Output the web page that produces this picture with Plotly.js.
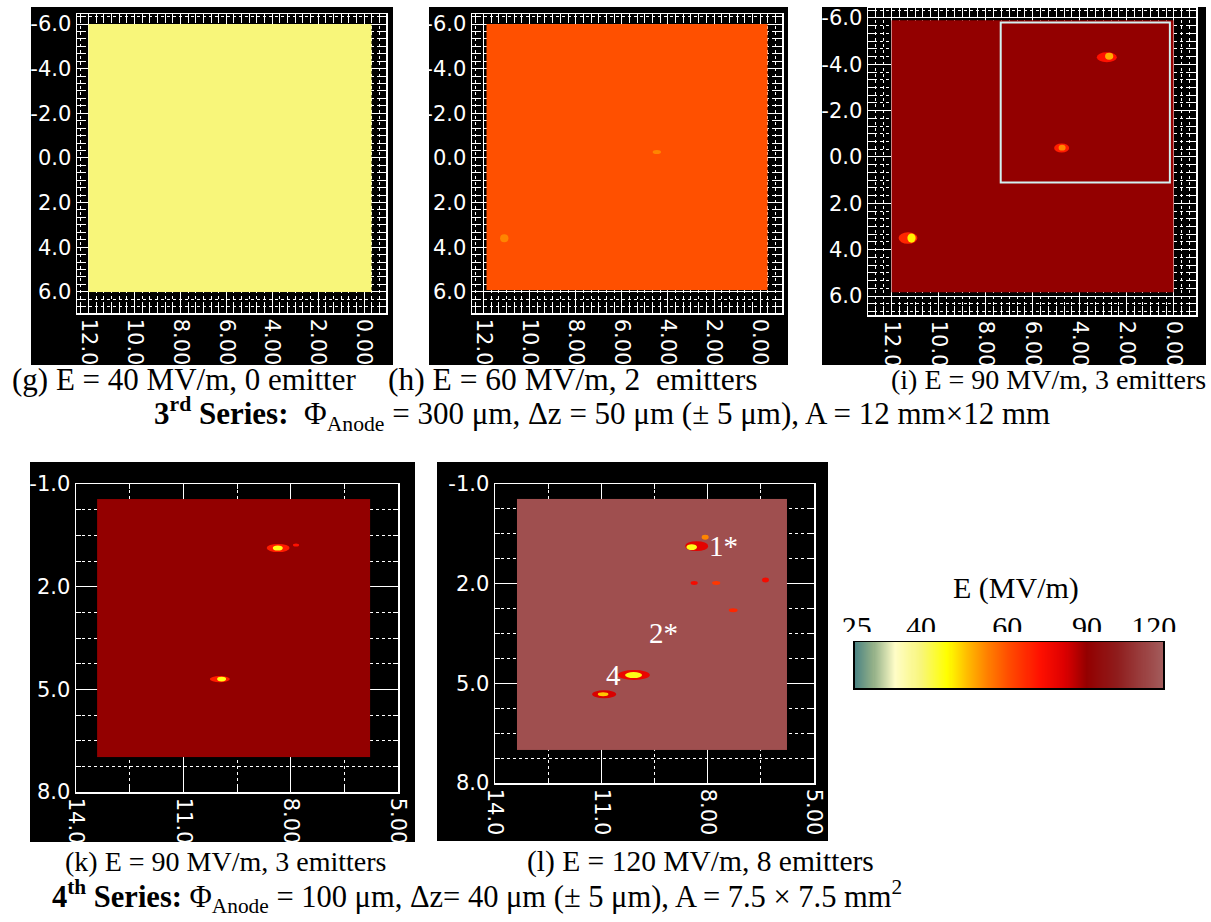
<!DOCTYPE html>
<html><head><meta charset="utf-8">
<script src="https://cdn.plot.ly/plotly-3.0.1.min.js"></script>
<style>html,body{margin:0;padding:0;background:#fff}#chart{width:1211px;height:922px}</style>
</head><body><div id="chart"></div>
<script>
// ================= DATA =================
const panelLabels = ['g', 'h', 'i', 'k', 'l'];
const panelFieldE = [40, 60, 90, 90, 120];          // MV/m
const panelEmitterCount = [0, 2, 3, 3, 8];
// sample-area extent (mm)
const areaXmin = [-0.3, -0.3, 0.0, 5.79, 5.75];
const areaXmax = [12.0, 11.87, 12.0, 13.41, 13.38];
const areaYmin = [-6.0, -6.0, -5.9, -0.56, -0.55];
const areaYmax = [6.0, 5.9, 5.85, 6.98, 7.01];

// tick labels
const topXTickVals = [12, 10, 8, 6, 4, 2, 0];
const topXTickText = ['12.0', '10.0', '8.00', '6.00', '4.00', '2.00', '0.00'];
const topYTickVals = [-6, -4, -2, 0, 2, 4, 6];
const topYTickText = ['-6.0', '-4.0', '-2.0', '0.0', '2.0', '4.0', '6.0'];
const botXTickVals = [14, 11, 8, 5];
const botXTickText = ['14.0', '11.0', '8.00', '5.00'];
const botYTickVals = [-1, 2, 5, 8];
const botYTickText = ['-1.0', '2.0', '5.0', '8.0'];

// emitters (centre, extent in mm, local E colour value)
const hEmX = [4.48, 11.1], hEmY = [-0.27, 3.6], hEmW = [0.36, 0.36], hEmH = [0.18, 0.36], hEmE = [55, 55];
const hCoreX = [null, null], hCoreY = [null, null], hCoreW = [null, null], hCoreH = [null, null], hCoreE = [null, null];

const iEmX = [2.85, 4.77, 11.3], iEmY = [-4.3, -0.39, 3.5], iEmW = [0.85, 0.64, 0.8], iEmH = [0.43, 0.39, 0.5], iEmE = [72, 70, 68];
const iCoreX = [2.75, 4.75, 11.15], iCoreY = [-4.35, -0.4, 3.5], iCoreW = [0.35, 0.3, 0.35], iCoreH = [0.3, 0.25, 0.4], iCoreE = [52, 55, 47];
const iBoxX = [0.17, 7.36], iBoxY = [-5.8, 1.1];

const kEmX = [8.35, 7.85, 9.98], kEmY = [0.87, 0.78, 4.70], kEmW = [0.64, 0.17, 0.56], kEmH = [0.24, 0.09, 0.18], kEmE = [70, 72, 70];
const kCoreX = [8.36, null, 9.93], kCoreY = [0.87, null, 4.70], kCoreW = [0.28, null, 0.25], kCoreH = [0.15, null, 0.14], kCoreE = [45, null, 45];

const lEmX = [8.31, 8.07, 8.38, 7.76, 6.37, 7.28, 10.08, 10.92];
const lEmY = [0.87, 0.6, 1.98, 1.98, 1.89, 2.8, 4.75, 5.33];
const lEmW = [0.65, 0.2, 0.2, 0.23, 0.2, 0.25, 0.9, 0.68];
const lEmH = [0.3, 0.15, 0.12, 0.12, 0.15, 0.12, 0.3, 0.24];
const lEmE = [80, 55, 75, 65, 75, 68, 78, 82];
const lCoreX = [8.45, null, null, null, null, null, 10.09, 10.95];
const lCoreY = [0.9, null, null, null, null, null, 4.75, 5.33];
const lCoreW = [0.3, null, null, null, null, null, 0.48, 0.3];
const lCoreH = [0.18, null, null, null, null, null, 0.18, 0.12];
const lCoreE = [45, null, null, null, null, null, 45, 50];
const lLabelText = ['1*', '2*', '4'];
const lLabelX = [7.56, 9.25, 10.67];
const lLabelY = [0.87, 3.49, 4.75];

// colour bar
const cbTickE = [25, 40, 60, 90, 120];
const cbTickPos = [0.006, 0.214, 0.494, 0.753, 0.97];
const cbStopPos = [0, 0.06, 0.13, 0.214, 0.3, 0.36, 0.43, 0.494, 0.6, 0.68, 0.753, 0.85, 1];
const cbStopColor = ['#4b8383', '#93b088', '#fffdc8', '#f8f67a', '#ffff00', '#ffc000', '#ff8000', '#ff5000',
                     '#ff1000', '#dd0000', '#930000', '#8f1c1c', '#a35c5c'];

// captions
const captionsTop = ['(g) E = 40 MV/m, 0 emitter', '(h) E = 60 MV/m, 2\u00a0 emitters', '(i) E = 90 MV/m, 3 emitters'];
const seriesTop = '<b>3<sup>rd</sup> Series:</b>  \u03A6<sub>Anode</sub> = 300 \u03BCm, \u0394z = 50 \u03BCm (\u00B1 5 \u03BCm), A = 12 mm\u00D712 mm';
const captionsBot = ['(k) E = 90 MV/m, 3 emitters', '(l) E = 120 MV/m, 8 emitters'];
const seriesBot = '<b>4<sup>th</sup> Series:</b> \u03A6<sub>Anode</sub> = 100 \u03BCm, \u0394z= 40 \u03BCm (\u00B1 5 \u03BCm), A = 7.5 \u00D7 7.5 mm<sup>2</sup>';
const cbTitle = 'E (MV/m)';

// ================= HELPERS =================
const W = 1211, H = 922;
const px = v => v / W, py = v => 1 - v / H;
function eToU(E) {
  const t = cbTickE, p = cbTickPos;
  let i = 0;
  if (E <= t[0]) i = 0; else if (E >= t[t.length - 1]) i = t.length - 2;
  else { while (E > t[i + 1]) i++; }
  return p[i] + (E - t[i]) / (t[i + 1] - t[i]) * (p[i + 1] - p[i]);
}
function hex2rgb(h) { return [1, 3, 5].map(k => parseInt(h.substr(k, 2), 16)); }
function colorAt(u) {
  u = Math.max(0, Math.min(1, u));
  let i = 0; while (i < cbStopPos.length - 2 && u > cbStopPos[i + 1]) i++;
  const f = (u - cbStopPos[i]) / (cbStopPos[i + 1] - cbStopPos[i]);
  const a = hex2rgb(cbStopColor[i]), b = hex2rgb(cbStopColor[i + 1]);
  const c = a.map((v, k) => Math.round(v + (b[k] - v) * f));
  return 'rgb(' + c.join(',') + ')';
}
const colorscale = cbStopPos.map((p, i) => [p, cbStopColor[i]]);

// ================= TRACES =================
const axisIds = ['', '2', '3', '4', '5'];
const traces = [];
panelLabels.forEach((lab, i) => {
  traces.push({
    type: 'heatmap', xaxis: 'x' + axisIds[i], yaxis: 'y' + axisIds[i],
    x: [areaXmin[i], areaXmax[i]], y: [areaYmin[i], areaYmax[i]],
    z: [[eToU(panelFieldE[i])]], colorscale: colorscale, zmin: 0, zmax: 1,
    showscale: false, hoverinfo: 'skip', name: '(' + lab + ') E = ' + panelFieldE[i] + ' MV/m'
  });
});
// colour bar ramp
const cbEdges = [], cbVals = [];
for (let k = 0; k <= 300; k++) cbEdges.push(k / 300);
for (let k = 0; k < 300; k++) cbVals.push((k + 0.5) / 300);
traces.push({
  type: 'heatmap', xaxis: 'x6', yaxis: 'y6', x: cbEdges, y: [0, 1], z: [cbVals],
  colorscale: colorscale, zmin: 0, zmax: 1, showscale: false, hoverinfo: 'skip'
});
// carrier for the colour-bar label axis
traces.push({ type: 'scatter', mode: 'markers', xaxis: 'x7', yaxis: 'y6', x: [], y: [], hoverinfo: 'skip' });

// ================= SHAPES =================
const shapes = [];
// black panel backgrounds (pixel layout)
const bgBoxes = [[31, 7, 393, 365], [429, 7, 788, 365], [822, 7, 1206, 365], [30, 462, 415, 842], [437, 462, 828, 841]];
bgBoxes.forEach(b => shapes.push({
  type: 'rect', xref: 'paper', yref: 'paper', x0: px(b[0]), x1: px(b[2]), y0: py(b[3]), y1: py(b[1]),
  fillcolor: '#000', line: { width: 0 }, layer: 'below'
}));
function addEmitters(ax, X, Y, Wd, Ht, E, CX, CY, CW, CH, CE) {
  X.forEach((x, j) => {
    shapes.push({
      type: 'circle', xref: 'x' + ax, yref: 'y' + ax, x0: x - Wd[j] / 2, x1: x + Wd[j] / 2,
      y0: Y[j] - Ht[j] / 2, y1: Y[j] + Ht[j] / 2, fillcolor: colorAt(eToU(E[j])), line: { width: 0 }, layer: 'above'
    });
    if (CX[j] !== null) shapes.push({
      type: 'circle', xref: 'x' + ax, yref: 'y' + ax, x0: CX[j] - CW[j] / 2, x1: CX[j] + CW[j] / 2,
      y0: CY[j] - CH[j] / 2, y1: CY[j] + CH[j] / 2, fillcolor: colorAt(eToU(CE[j])), line: { width: 0 }, layer: 'above'
    });
  });
}
addEmitters('2', hEmX, hEmY, hEmW, hEmH, hEmE, hCoreX, hCoreY, hCoreW, hCoreH, hCoreE);
addEmitters('3', iEmX, iEmY, iEmW, iEmH, iEmE, iCoreX, iCoreY, iCoreW, iCoreH, iCoreE);
addEmitters('4', kEmX, kEmY, kEmW, kEmH, kEmE, kCoreX, kCoreY, kCoreW, kCoreH, kCoreE);
addEmitters('5', lEmX, lEmY, lEmW, lEmH, lEmE, lCoreX, lCoreY, lCoreW, lCoreH, lCoreE);
shapes.push({
  type: 'rect', xref: 'x3', yref: 'y3', x0: iBoxX[0], x1: iBoxX[1], y0: iBoxY[0], y1: iBoxY[1],
  line: { color: '#d2f2f2', width: 2 }, fillcolor: 'rgba(0,0,0,0)', layer: 'above'
});
// white strip clipping the bottoms of the colour-bar labels
shapes.push({
  type: 'rect', xref: 'paper', yref: 'paper', x0: px(830), x1: px(1195), y0: py(641), y1: py(632),
  fillcolor: '#fff', line: { width: 0 }, layer: 'above'
});

// ================= AXES =================
const tickFont = { family: 'DejaVu Sans', size: 21, color: '#fff' };
function axTop(domain, range, vals, text, isX, anchor, minorDt, minor0) {
  const a = {
    domain: domain, range: range, anchor: anchor, tickmode: 'array', tickvals: vals, ticktext: text,
    tickfont: tickFont, ticks: 'inside', ticklen: 10, tickcolor: '#fff', tickwidth: 1,
    showline: true, linecolor: '#fff', linewidth: 1.5, mirror: 'allticks',
    showgrid: true, gridcolor: '#fff', gridwidth: 1, zeroline: false, fixedrange: true,
    minor: { tick0: minor0, dtick: minorDt, ticks: 'inside', ticklen: 9, tickcolor: '#fff', tickwidth: 1,
             showgrid: true, gridcolor: '#fff', griddash: 'dot', gridwidth: 1 }
  };
  if (isX) a.tickangle = 90;
  return a;
}
function axBot(domain, range, vals, text, isX, anchor, minorDt, minor0) {
  const a = axTop(domain, range, vals, text, isX, anchor, minorDt, minor0);
  a.ticklen = 6; a.minor.ticklen = 5;
  return a;
}

const layout = {
  width: W, height: H, margin: { l: 0, r: 0, t: 0, b: 0 },
  paper_bgcolor: '#fff', plot_bgcolor: '#000', showlegend: false,
  xaxis: axTop([px(77), px(386)], [12.5, -0.95], topXTickVals, topXTickText, true, 'y', 1 / 3, 0),
  yaxis: axTop([py(313), py(14)], [6.95, -6.45], topYTickVals, topYTickText, false, 'x', 1 / 3, 0),
  xaxis2: axTop([px(472), px(782)], [12.5, -0.95], topXTickVals, topXTickText, true, 'y2', 1 / 3, 0),
  yaxis2: axTop([py(313), py(14)], [6.95, -6.45], topYTickVals, topYTickText, false, 'x2', 1 / 3, 0),
  xaxis3: axTop([px(868), px(1196)], [13.0, -0.94], topXTickVals, topXTickText, true, 'y3', 1 / 3, 0),
  yaxis3: axTop([py(315), py(8)], [6.82, -6.43], topYTickVals, topYTickText, false, 'x3', 1 / 3, 0),
  xaxis4: axBot([px(76), px(398)], [14, 5], botXTickVals, botXTickText, true, 'y4', 1.5, 5),
  yaxis4: axBot([py(792), py(484)], [8, -1], botYTickVals, botYTickText, false, 'x4', 0.75, -1),
  xaxis5: axBot([px(495), px(814)], [14, 5], botXTickVals, botXTickText, true, 'y5', 1.5, 5),
  yaxis5: axBot([py(783), py(484)], [8, -1], botYTickVals, botYTickText, false, 'x5', 0.75, -1),
  xaxis6: {
    domain: [px(855), px(1163)], range: [0, 1], anchor: 'y6', side: 'top',
    showticklabels: false, ticks: '',
    showline: true, linecolor: '#000', linewidth: 2, mirror: true, showgrid: false, zeroline: false, fixedrange: true
  },
  xaxis7: {
    domain: [px(855), px(1163)], range: [0, 1], overlaying: 'x6', anchor: 'free', position: py(643), side: 'top',
    tickmode: 'array', tickvals: cbTickPos, ticktext: cbTickE.map(String),
    tickfont: { family: 'Liberation Serif', size: 30, color: '#000' }, ticks: '',
    showline: false, showgrid: false, zeroline: false, fixedrange: true
  },
  yaxis6: {
    domain: [py(688), py(642)], range: [0, 1], anchor: 'x6', showticklabels: false, ticks: '',
    showline: true, linecolor: '#000', linewidth: 2, mirror: true, showgrid: false, zeroline: false, fixedrange: true
  },
  shapes: shapes,
  annotations: []
};

const ann = layout.annotations;
const serif = 'Liberation Serif';
const capTopX = [10, 386, 889], capTopSize = [31, 31.5, 28];
captionsTop.forEach((t, i) => ann.push({ text: t, xref: 'paper', yref: 'paper', x: px(capTopX[i]), y: py(379), xanchor: 'left', yanchor: 'middle', showarrow: false, font: { family: serif, size: capTopSize[i], color: '#000' } }));
ann.push({ text: seriesTop, xref: 'paper', yref: 'paper', x: px(602), y: py(414), xanchor: 'center', yanchor: 'middle', showarrow: false, font: { family: serif, size: 31, color: '#000' } });
const capBotX = [63, 525], capBotSize = [28, 29.5];
captionsBot.forEach((t, i) => ann.push({ text: t, xref: 'paper', yref: 'paper', x: px(capBotX[i]), y: py(861), xanchor: 'left', yanchor: 'middle', showarrow: false, font: { family: serif, size: capBotSize[i], color: '#000' } }));
ann.push({ text: seriesBot, xref: 'paper', yref: 'paper', x: px(50), y: py(896), xanchor: 'left', yanchor: 'middle', showarrow: false, font: { family: serif, size: 30.5, color: '#000' } });
ann.push({ text: cbTitle, xref: 'paper', yref: 'paper', x: px(1016), y: py(588), xanchor: 'center', yanchor: 'middle', showarrow: false, font: { family: serif, size: 30, color: '#000' } });
lLabelText.forEach((t, i) => ann.push({ text: t, xref: 'x5', yref: 'y5', x: lLabelX[i], y: lLabelY[i], xanchor: 'center', yanchor: 'middle', showarrow: false, font: { family: serif, size: 29, color: '#fff' } }));

Plotly.newPlot('chart', traces, layout, { staticPlot: true, displayModeBar: false });
</script>
</body></html>
